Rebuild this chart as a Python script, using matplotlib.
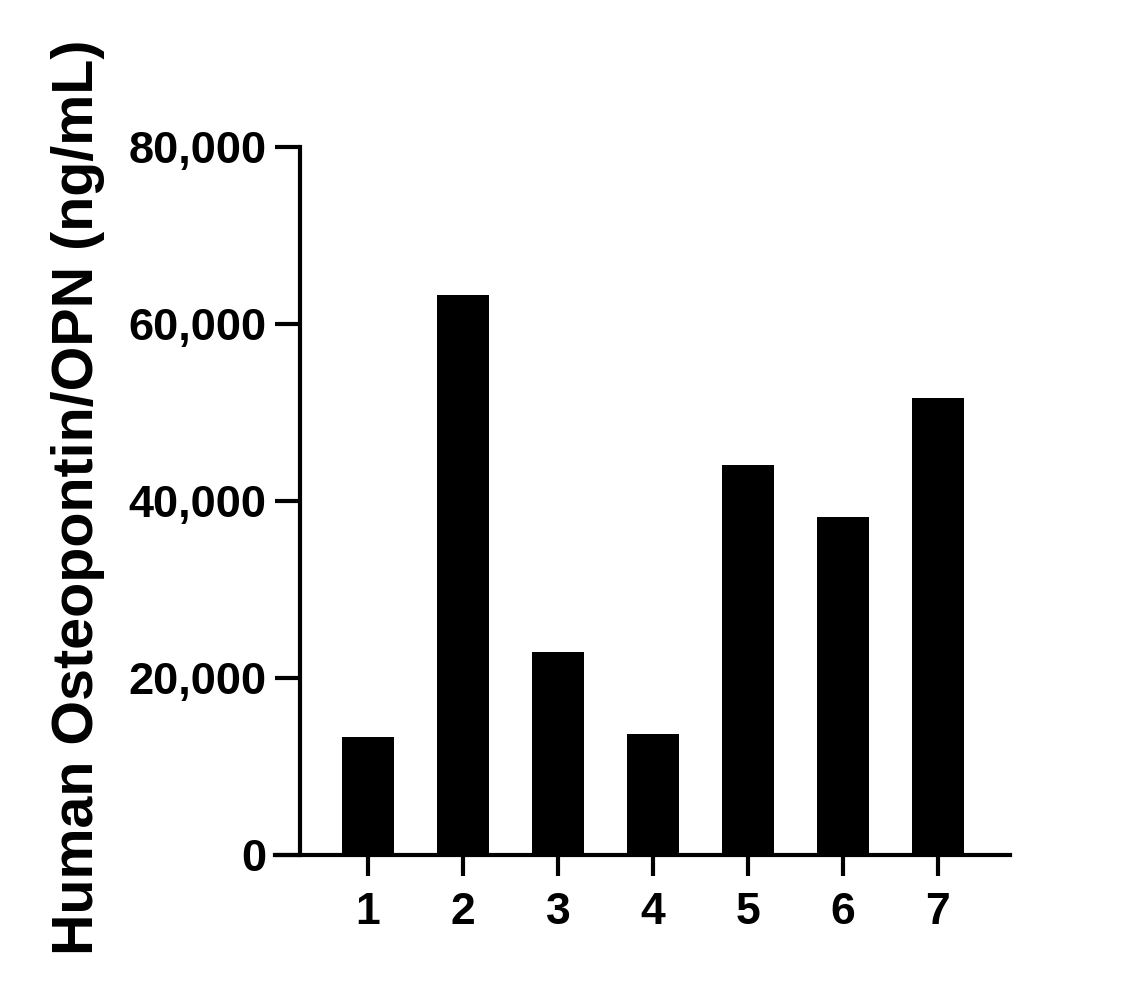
import matplotlib
matplotlib.use("Agg")
import matplotlib.pyplot as plt
from matplotlib import font_manager

categories = ["1", "2", "3", "4", "5", "6", "7"]
values = [13300, 63300, 22900, 13700, 44100, 38200, 51600]
yticks = [0, 20000, 40000, 60000, 80000]
ytick_labels = ["0", "20,000", "40,000", "60,000", "80,000"]
ylabel = "Human Osteopontin/OPN (ng/mL)"

names = {f.name for f in font_manager.fontManager.ttflist}
narrow = "Liberation Sans Narrow" if "Liberation Sans Narrow" in names else "Liberation Sans"
plt.rcParams['font.family'] = ['Liberation Sans', 'DejaVu Sans']

W, H = 1147, 999
fig = plt.figure(figsize=(W / 100, H / 100), dpi=100)
ax = fig.add_axes([275 / W, 1 - 855 / H, 735 / W, 708 / H])

x = list(range(1, len(categories) + 1))
ax.bar(x, values, width=0.55, color="black", edgecolor="black", linewidth=0)

ax.set_xlim(0.021, 7.758)
ax.set_ylim(0, 80000)
ax.set_xticks(x)
ax.set_xticklabels(categories)
ax.set_yticks(yticks)
ax.set_yticklabels(ytick_labels)

for s in ["top", "right"]:
    ax.spines[s].set_visible(False)
ax.spines["left"].set_position(("data", 0.284))
ax.spines["left"].set_linewidth(3)
ax.spines["bottom"].set_linewidth(3)
ax.tick_params(axis="y", length=18, width=3, labelsize=32.5, pad=6)
ax.tick_params(axis="x", length=15, width=3, labelsize=32, pad=12)
for lab in ax.get_xticklabels() + ax.get_yticklabels():
    lab.set_fontweight("bold")

t = fig.text(78 / W, 1 - 497 / H, ylabel, rotation=90, ha="center", va="center",
             fontsize=45, fontweight="bold", family=[narrow, 'DejaVu Sans'])
fig.canvas.draw()
r = fig.canvas.get_renderer()
h = t.get_window_extent(r).height
t.set_fontsize(45 * 915 / h)

fig.savefig("out.png", dpi=100)
